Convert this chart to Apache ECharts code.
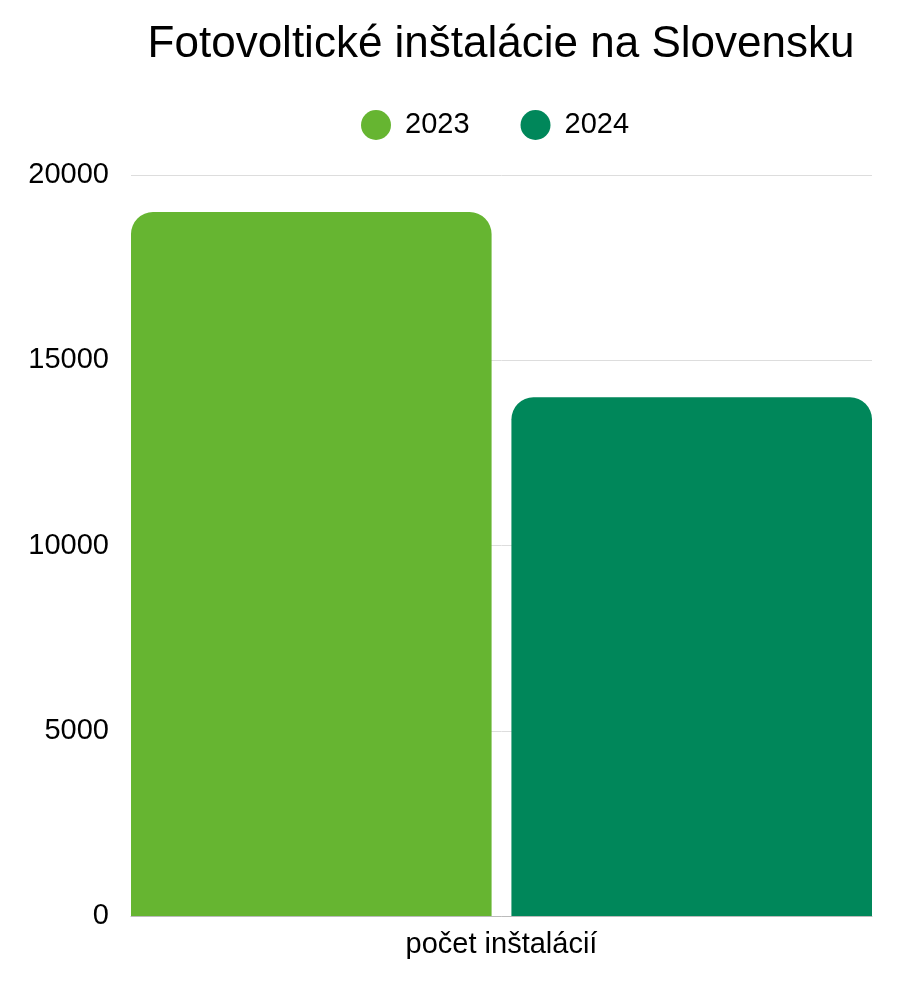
<!DOCTYPE html>
<html>
<head>
<meta charset="utf-8">
<script src="https://cdn.jsdelivr.net/npm/echarts@6/dist/echarts.min.js"></script>
<style>
  html, body { margin: 0; padding: 0; background: #fff; }
  #container { width: 900px; height: 988px; }
</style>
</head>
<body>
<div id="container"></div>
<script>
var categories = ['počet inštalácií'];
var seriesNames = ['2023', '2024'];
var values2023 = [19000];
var values2024 = [14000];
var yTicks = [0, 5000, 10000, 15000, 20000];

var dom = document.getElementById('container');
var myChart = echarts.init(dom);

var font = '"Liberation Sans", Arial, sans-serif';

myChart.setOption({
  animation: false,
  textStyle: { fontFamily: font },
  title: {
    text: 'Fotovoltické inštalácie na Slovensku',
    left: 496,
    textAlign: 'center',
    top: 18,
    textStyle: { fontSize: 44, fontWeight: 'normal', color: '#000', fontFamily: font }
  },
  legend: {
    data: seriesNames,
    top: 105,
    left: 356,
    icon: 'circle',
    itemWidth: 30,
    itemHeight: 30,
    itemGap: 51,
    textStyle: { fontSize: 29, color: '#000', fontFamily: font, padding: [0, 0, 0, 9] }
  },
  grid: {
    left: 131,
    right: 28,
    top: 175,
    bottom: 72
  },
  xAxis: {
    type: 'category',
    data: categories,
    axisTick: { show: false },
    axisLine: { lineStyle: { color: '#bbb' } },
    axisLabel: { fontSize: 29, color: '#000', margin: 14, fontFamily: font }
  },
  yAxis: {
    type: 'value',
    min: yTicks[0],
    max: yTicks[yTicks.length - 1],
    interval: 5000,
    axisLine: { show: false },
    axisTick: { show: false },
    splitLine: { lineStyle: { color: '#ddd' } },
    axisLabel: {
      fontSize: 29, color: '#000', margin: 22, fontFamily: font,
      formatter: function (v) { return String(v); }
    }
  },
  series: [
    {
      name: seriesNames[0],
      type: 'bar',
      data: values2023,
      barCategoryGap: 0,
      barGap: '5.5%',
      itemStyle: { color: '#66b531', borderRadius: [22, 22, 0, 0] }
    },
    {
      name: seriesNames[1],
      type: 'bar',
      data: values2024,
      itemStyle: { color: '#00875a', borderRadius: [22, 22, 0, 0] }
    }
  ]
});
</script>
</body>
</html>
